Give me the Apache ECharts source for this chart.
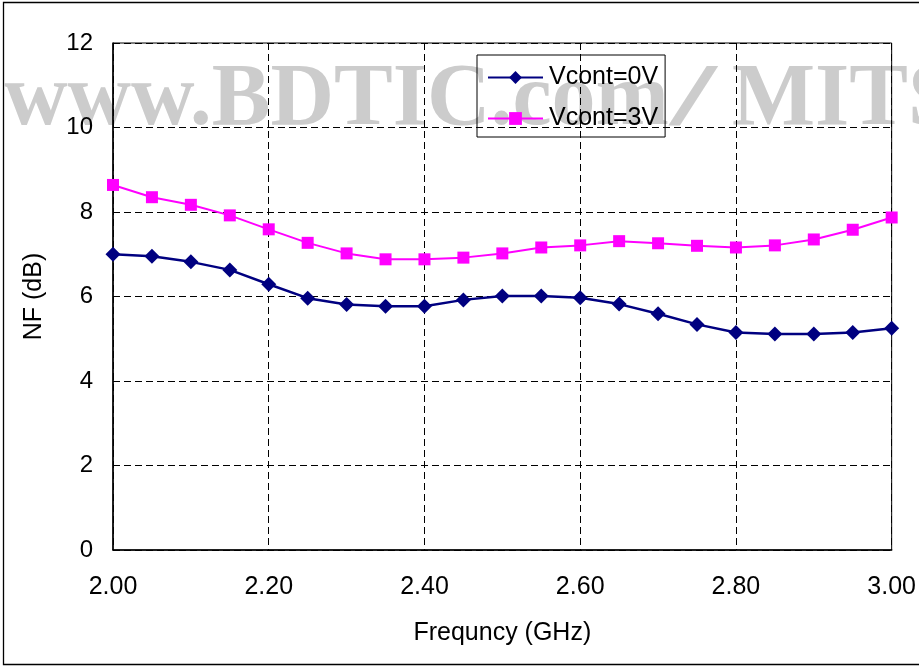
<!DOCTYPE html>
<html>
<head>
<meta charset="utf-8">
<script src="https://cdn.jsdelivr.net/npm/echarts@6/dist/echarts.min.js"></script>
<style>
html,body{margin:0;padding:0;background:#fff;}
#chart{width:919px;height:666px;}
</style>
</head>
<body>
<div id="chart"></div>
<script>
var freq = [2.00,2.05,2.10,2.15,2.20,2.25,2.30,2.35,2.40,2.45,2.50,2.55,2.60,2.65,2.70,2.75,2.80,2.85,2.90,2.95,3.00];
var nf0V = [7.00,6.95,6.82,6.63,6.29,5.96,5.81,5.77,5.77,5.92,6.01,6.01,5.97,5.82,5.59,5.34,5.15,5.11,5.11,5.15,5.25];
var nf3V = [8.64,8.35,8.17,7.92,7.59,7.27,7.02,6.88,6.88,6.92,7.02,7.16,7.21,7.31,7.26,7.20,7.16,7.21,7.35,7.58,7.87];
var seriesNames = ['Vcont=0V','Vcont=3V'];
var xTicks = {min:2.0, max:3.0, interval:0.2};
var yTicks = {min:0, max:12, interval:2};
var xName = 'Frequncy (GHz)';
var yName = 'NF (dB)';
var watermarkParts = ['www.BDTIC.com', '/', 'MITS'];

function pairs(xs, ys){ return xs.map(function(x,i){ return [x, ys[i]]; }); }

var font = 'Liberation Sans, Arial, sans-serif';
var wmFont = 'bold 88px "Liberation Serif", "Times New Roman", serif';
var chart = echarts.init(document.getElementById('chart'), null, {renderer:'canvas'});
chart.setOption({
  animation:false,
  backgroundColor:'#fff',
  graphic:[
    {type:'rect', z:-20, silent:true, shape:{x:3.5,y:2.5,width:940,height:662}, style:{fill:null, stroke:'#000', lineWidth:1.3}},
    {type:'text', z:-10, silent:true, x:4, y:101, style:{text:watermarkParts[0], font:wmFont, fill:'#cccccc', verticalAlign:'middle', align:'left'}},
    {type:'text', z:-10, silent:true, x:670, y:101, scaleX:1.9, originX:0, originY:0, style:{text:watermarkParts[1], font:wmFont, fill:'#cccccc', verticalAlign:'middle', align:'left'}},
    {type:'text', z:-10, silent:true, x:732, y:101, style:{text:watermarkParts[2], font:wmFont, fill:'#cccccc', verticalAlign:'middle', align:'left'}}
  ],
  grid:{left:113, right:26, top:43, bottom:116, show:true, borderColor:'#000', borderWidth:1, backgroundColor:'transparent'},
  legend:{
    left:477, top:55, orient:'vertical',
    padding:[10,7,6,10], itemGap:16, itemWidth:55, itemHeight:16,
    borderColor:'#000', borderWidth:1, backgroundColor:'transparent',
    textStyle:{fontFamily:font, fontSize:25, color:'#000', padding:[0,0,0,1]},
    data:seriesNames
  },
  xAxis:{
    type:'value', min:xTicks.min, max:xTicks.max, interval:xTicks.interval,
    name:xName, nameLocation:'middle', nameGap:71,
    nameTextStyle:{fontFamily:font, fontSize:25, color:'#000'},
    axisLine:{show:true, lineStyle:{color:'#000', width:1.5}},
    axisTick:{show:false},
    axisLabel:{fontFamily:font, fontSize:25, color:'#000', margin:25, formatter:function(v){return v.toFixed(2);}, showMinLabel:true, showMaxLabel:true},
    splitLine:{show:true, lineStyle:{color:'#000', width:1, type:[7,4]}}
  },
  yAxis:{
    type:'value', min:yTicks.min, max:yTicks.max, interval:yTicks.interval,
    name:yName, nameLocation:'middle', nameGap:66, nameRotate:90,
    nameTextStyle:{fontFamily:font, fontSize:25, color:'#000'},
    axisLine:{show:true, lineStyle:{color:'#000', width:1.5}},
    axisTick:{show:false},
    axisLabel:{fontFamily:font, fontSize:24, color:'#000', margin:20},
    splitLine:{show:true, lineStyle:{color:'#000', width:1, type:[7,4]}}
  },
  series:[
    {name:seriesNames[0], type:'line', data:pairs(freq,nf0V), symbol:'diamond', symbolSize:15,
     lineStyle:{color:'#000080', width:2.5}, itemStyle:{color:'#000080'}, z:3},
    {name:seriesNames[1], type:'line', data:pairs(freq,nf3V), symbol:'rect', symbolSize:12,
     lineStyle:{color:'#FF00FF', width:2}, itemStyle:{color:'#FF00FF'}, z:3}
  ]
});
</script>
</body>
</html>
